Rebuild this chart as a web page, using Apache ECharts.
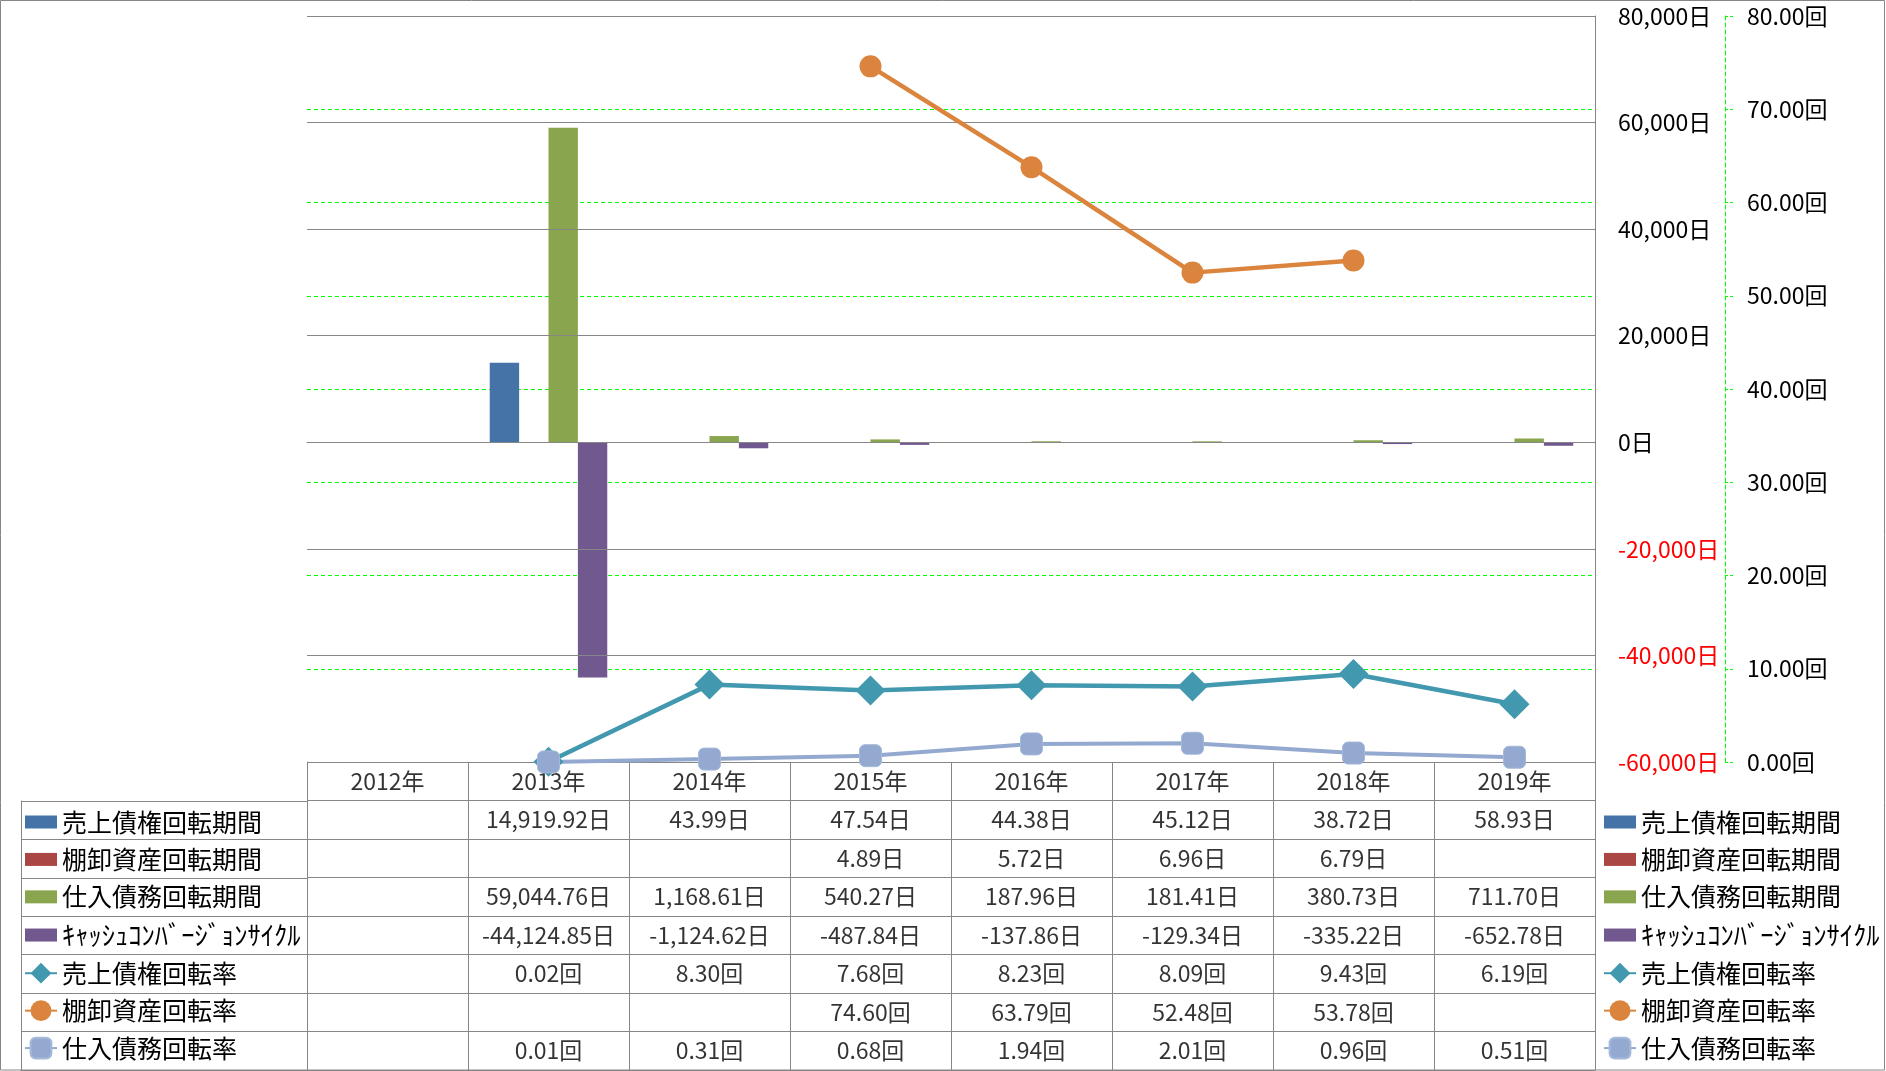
<!DOCTYPE html>
<html><head><meta charset="utf-8">
<script src="https://cdn.jsdelivr.net/npm/echarts@6/dist/echarts.min.js"></script>
<style>html,body{margin:0;padding:0;background:#fff}#c{width:1886px;height:1071px}</style>
</head><body><div id="c"></div>
<script>
const years = ['2012年','2013年','2014年','2015年','2016年','2017年','2018年','2019年'];
const arPeriod = [null,14919.92,43.99,47.54,44.38,45.12,38.72,58.93];
const invPeriod = [null,null,null,4.89,5.72,6.96,6.79,null];
const apPeriod = [null,59044.76,1168.61,540.27,187.96,181.41,380.73,711.70];
const ccc = [null,-44124.85,-1124.62,-487.84,-137.86,-129.34,-335.22,-652.78];
const arTurnover = [null,0.02,8.30,7.68,8.23,8.09,9.43,6.19];
const invTurnover = [null,null,null,74.60,63.79,52.48,53.78,null];
const apTurnover = [null,0.01,0.31,0.68,1.94,2.01,0.96,0.51];
const dayAxis = {min:-60000,max:80000,interval:20000};
const rateAxis = {min:0,max:80,interval:10};
const names = ['売上債権回転期間','棚卸資産回転期間','仕入債務回転期間','ｷｬｯｼｭｺﾝﾊﾞｰｼﾞｮﾝｻｲｸﾙ','売上債権回転率','棚卸資産回転率','仕入債務回転率'];
const units = ['日','日','日','日','回','回','回'];
const colors = ['#4572A7','#AA4643','#89A54E','#71588F','#4198AF','#DB843D','#93A9CF'];

const rows = [arPeriod, invPeriod, apPeriod, ccc, arTurnover, invTurnover, apTurnover];
const FONT = 'Noto Sans CJK JP';
const GRAY = '#868686';
const GREEN = '#00FF00';
const fmt = v => v.toLocaleString('en-US',{minimumFractionDigits:2,maximumFractionDigits:2});

const cells = [];
years.forEach((y,c) => cells.push([c, 0, y]));
rows.forEach((arr,r) => arr.forEach((v,c) => { if (v !== null) cells.push([c, r+1, fmt(v)+units[r]]); }));

const legendData = names.map((n,i) => i<4 ? {name:n, icon:'path://M0,0h32v13h-32z'} : {name:n});
const legendBase = {orient:'vertical', top:809.5, itemWidth:32, itemHeight:26, itemGap:12.43, padding:0,
  selectedMode:false, data:legendData,
  formatter:n => n === names[3] ? '{k|' + n + '}' : n,
  textStyle:{fontSize:25, lineHeight:25, fontFamily:FONT, color:'#000',
    rich:{k:{fontSize:26.5, lineHeight:25, fontFamily:FONT, color:'#000'}}}};

const chart = echarts.init(document.getElementById('c'));
chart.setOption({
  animation:false,
  backgroundColor:'#fff',
  textStyle:{fontFamily:FONT},
  legend:[Object.assign({left:24}, legendBase), Object.assign({left:1603}, legendBase)],
  grid:[
    {left:307, right:291, top:16, height:746},
    {left:307, right:291, top:762, height:308},
    {left:21, width:286, top:801, height:269}
  ],
  xAxis:[
    {type:'category', gridIndex:0, data:years, boundaryGap:true,
     axisLabel:{show:false}, axisTick:{show:false}, axisLine:{show:true, lineStyle:{color:GRAY}}},
    {type:'category', gridIndex:1, data:years, boundaryGap:true,
     axisLabel:{show:false}, axisTick:{show:false}, axisLine:{show:true, lineStyle:{color:GRAY}},
     splitLine:{show:true, interval:0, lineStyle:{color:GRAY}}},
    {type:'category', gridIndex:2, data:[''], boundaryGap:true,
     axisLabel:{show:false}, axisTick:{show:false}, axisLine:{show:true, lineStyle:{color:GRAY}},
     splitLine:{show:true, interval:0, lineStyle:{color:GRAY}}}
  ],
  yAxis:[
    {type:'value', gridIndex:0, position:'right', min:dayAxis.min, max:dayAxis.max, interval:dayAxis.interval,
     axisLine:{show:true, lineStyle:{color:GRAY}}, axisTick:{show:false}, z:3,
     splitLine:{show:true, lineStyle:{color:GRAY, width:1}},
     axisLabel:{margin:23, fontSize:23, fontFamily:FONT,
       formatter:v => Number(v).toLocaleString('en-US')+'日',
       color:v => parseFloat(v) < 0 ? '#FF0000' : '#000'}},
    {type:'value', gridIndex:0, position:'right', offset:130, min:rateAxis.min, max:rateAxis.max, interval:rateAxis.interval,
     axisLine:{show:true, lineStyle:{color:GREEN, type:[4,3]}},
     axisTick:{show:true, length:9, lineStyle:{color:GREEN, type:[3,2]}},
     splitLine:{show:true, showMinLine:false, showMaxLine:false, lineStyle:{color:GREEN, type:[4,3], width:1}},
     axisLabel:{margin:22, fontSize:23, fontFamily:FONT, color:'#000', formatter:v => Number(v).toFixed(2)+'回'}},
    {type:'category', gridIndex:1, data:['hdr'].concat(names), inverse:true,
     axisLabel:{show:false}, axisTick:{show:false}, axisLine:{show:true, lineStyle:{color:GRAY}},
     splitLine:{show:true, interval:0, lineStyle:{color:GRAY}}},
    {type:'category', gridIndex:2, data:names, inverse:true,
     axisLabel:{show:false}, axisTick:{show:false}, axisLine:{show:true, lineStyle:{color:GRAY}},
     splitLine:{show:true, interval:0, lineStyle:{color:GRAY}}}
  ],
  series:[
    {name:names[0], type:'bar', xAxisIndex:0, yAxisIndex:0, data:arPeriod, itemStyle:{color:colors[0]}, barGap:'0%', barCategoryGap:'27%'},
    {name:names[1], type:'bar', xAxisIndex:0, yAxisIndex:0, data:invPeriod, itemStyle:{color:colors[1]}, barGap:'0%', barCategoryGap:'27%'},
    {name:names[2], type:'bar', xAxisIndex:0, yAxisIndex:0, data:apPeriod, itemStyle:{color:colors[2]}, barGap:'0%', barCategoryGap:'27%'},
    {name:names[3], type:'bar', xAxisIndex:0, yAxisIndex:0, data:ccc, itemStyle:{color:colors[3]}, barGap:'0%', barCategoryGap:'27%'},
    {name:names[4], type:'line', xAxisIndex:0, yAxisIndex:1, data:arTurnover, z:5,
     symbol:'diamond', symbolSize:30, lineStyle:{color:colors[4], width:4.5}, itemStyle:{color:colors[4]}},
    {name:names[5], type:'line', xAxisIndex:0, yAxisIndex:1, data:invTurnover, z:5,
     symbol:'circle', symbolSize:22, lineStyle:{color:colors[5], width:4.5}, itemStyle:{color:colors[5]}},
    {name:names[6], type:'line', xAxisIndex:0, yAxisIndex:1, data:apTurnover, z:5,
     symbol:'roundRect', symbolSize:22, lineStyle:{color:colors[6], width:4}, itemStyle:{color:colors[6], borderColor:'#A6B9DA', borderWidth:1}},
    {name:'table', type:'scatter', xAxisIndex:1, yAxisIndex:2, silent:true,
     data:cells.map(d => ({value:[d[0], d[1]], txt:d[2]})),
     symbol:'circle', symbolSize:1, itemStyle:{color:'rgba(0,0,0,0)'},
     label:{show:true, position:'inside', color:'#000', fontSize:23, fontFamily:FONT,
       formatter:p => p.data.txt}}
  ],
  graphic:[{type:'rect', shape:{x:0.5, y:0.5, width:1884, height:1069.5}, style:{fill:'none', stroke:GRAY, lineWidth:1}, silent:true, z:-1}]
});
</script></body></html>
